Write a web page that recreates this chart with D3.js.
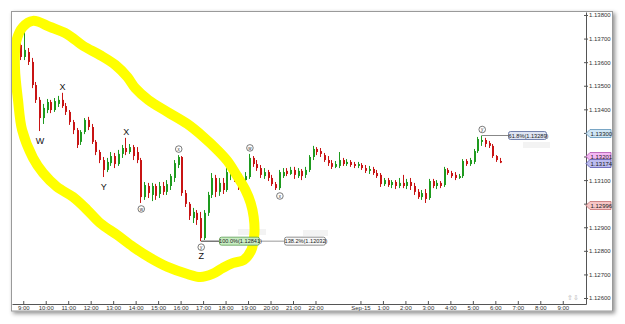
<!DOCTYPE html>
<html>
<head>
<meta charset="utf-8">
<script src="https://cdn.jsdelivr.net/npm/d3@7"></script>
<style>
  body { margin: 0; background: #fff; }
  svg text { font-family: "Liberation Sans", Arial, sans-serif; }
</style>
</head>
<body>
<div class="chart"></div>
<script>
"use strict";

const WIDTH = 625, HEIGHT = 324;
const PLOT = { left: 12, top: 12, right: 586, bottom: 304 };

// 10-minute bars, first bar starts 8:30 on Sep-14
const START = new Date(2015, 8, 14, 8, 30);
const END = new Date(2015, 8, 15, 10, 2);
const BAR_MIN = 10;

const opens = [
  1.13596,1.13533,1.13673,1.13622,1.13643,1.13601,1.13503,1.13440,1.13363,1.13397,
  1.13431,1.13397,1.13423,1.13440,1.13414,1.13389,1.13346,1.13312,1.13262,1.13304,
  1.13355,1.13325,1.13262,1.13219,1.13185,1.13143,1.13172,1.13202,1.13168,1.13211,
  1.13236,1.13219,1.13240,1.13219,1.13185,1.13028,1.13075,1.13037,1.13075,1.13041,
  1.13075,1.13050,1.13075,1.13109,1.13164,1.13198,1.13045,1.12999,1.12939,1.12961,
  1.12939,1.12854,1.12961,1.13037,1.13109,1.13050,1.13088,1.13058,1.13122,1.13156,
  1.13109,1.13071,1.13100,1.13113,1.13194,1.13168,1.13151,1.13117,1.13134,1.13109,
  1.13083,1.13066,1.13117,1.13139,1.13126,1.13143,1.13117,1.13139,1.13122,1.13143,
  1.13198,1.13232,1.13223,1.13206,1.13185,1.13172,1.13156,1.13160,1.13185,1.13168,
  1.13177,1.13168,1.13160,1.13164,1.13151,1.13139,1.13147,1.13130,1.13122,1.13083,
  1.13100,1.13079,1.13092,1.13075,1.13088,1.13075,1.13092,1.13075,1.13050,1.13028,
  1.13045,1.13024,1.13096,1.13075,1.13088,1.13079,1.13143,1.13130,1.13122,1.13109,
  1.13117,1.13181,1.13168,1.13177,1.13223,1.13262,1.13270,1.13257,1.13245,1.13202,
  1.13181
];
const highs = [
  1.13609,1.13686,1.13694,1.13736,1.13660,1.13618,1.13516,1.13452,1.13423,1.13444,
  1.13440,1.13448,1.13457,1.13470,1.13427,1.13397,1.13355,1.13321,1.13312,1.13363,
  1.13368,1.13338,1.13270,1.13228,1.13198,1.13194,1.13219,1.13215,1.13228,1.13249,
  1.13279,1.13253,1.13249,1.13240,1.13194,1.13092,1.13088,1.13088,1.13084,1.13092,
  1.13092,1.13100,1.13126,1.13185,1.13206,1.13202,1.13058,1.13007,1.12982,1.12973,
  1.12965,1.12973,1.13050,1.13130,1.13122,1.13109,1.13109,1.13151,1.13168,1.13168,
  1.13122,1.13126,1.13134,1.13211,1.13202,1.13185,1.13164,1.13151,1.13143,1.13122,
  1.13092,1.13143,1.13151,1.13151,1.13156,1.13156,1.13151,1.13147,1.13156,1.13206,
  1.13245,1.13240,1.13236,1.13215,1.13202,1.13185,1.13181,1.13219,1.13194,1.13189,
  1.13185,1.13177,1.13177,1.13172,1.13164,1.13160,1.13156,1.13143,1.13130,1.13109,
  1.13109,1.13100,1.13100,1.13109,1.13122,1.13105,1.13109,1.13088,1.13062,1.13058,
  1.13062,1.13105,1.13105,1.13100,1.13096,1.13156,1.13151,1.13139,1.13134,1.13126,
  1.13189,1.13189,1.13194,1.13232,1.13283,1.13289,1.13279,1.13266,1.13253,1.13206,
  1.13194
];
const lows = [
  1.13490,1.13524,1.13609,1.13609,1.13588,1.13490,1.13427,1.13308,1.13338,1.13384,
  1.13384,1.13389,1.13410,1.13406,1.13376,1.13334,1.13295,1.13236,1.13249,1.13295,
  1.13312,1.13253,1.13206,1.13172,1.13113,1.13134,1.13160,1.13151,1.13160,1.13194,
  1.13206,1.13211,1.13185,1.13172,1.13003,1.13016,1.13024,1.13011,1.13016,1.13024,
  1.13037,1.13037,1.13058,1.13092,1.13151,1.13033,1.12986,1.12931,1.12918,1.12910,
  1.12841,1.12846,1.12948,1.13024,1.13028,1.13033,1.13041,1.13050,1.13100,1.13092,
  1.13058,1.13062,1.13083,1.13105,1.13156,1.13139,1.13109,1.13105,1.13096,1.13075,
  1.13058,1.13058,1.13109,1.13117,1.13122,1.13105,1.13109,1.13100,1.13109,1.13134,
  1.13185,1.13206,1.13198,1.13177,1.13160,1.13147,1.13151,1.13151,1.13160,1.13160,
  1.13156,1.13151,1.13151,1.13143,1.13130,1.13126,1.13122,1.13109,1.13071,1.13075,
  1.13071,1.13066,1.13062,1.13066,1.13066,1.13062,1.13058,1.13037,1.13020,1.13016,
  1.13003,1.13016,1.13066,1.13062,1.13066,1.13071,1.13122,1.13109,1.13100,1.13105,
  1.13109,1.13160,1.13160,1.13168,1.13215,1.13245,1.13240,1.13236,1.13194,1.13177,
  1.13172
];
const closes = [
  1.13503,1.13673,1.13622,1.13652,1.13601,1.13503,1.13440,1.13363,1.13406,1.13431,
  1.13397,1.13435,1.13440,1.13414,1.13389,1.13346,1.13312,1.13249,1.13304,1.13355,
  1.13325,1.13262,1.13219,1.13185,1.13143,1.13177,1.13202,1.13168,1.13211,1.13236,
  1.13219,1.13240,1.13202,1.13185,1.13028,1.13079,1.13045,1.13075,1.13033,1.13075,
  1.13050,1.13083,1.13117,1.13172,1.13198,1.13045,1.12999,1.12948,1.12965,1.12931,
  1.12854,1.12961,1.13037,1.13109,1.13050,1.13088,1.13058,1.13134,1.13156,1.13109,
  1.13071,1.13109,1.13117,1.13194,1.13168,1.13151,1.13122,1.13134,1.13109,1.13083,
  1.13066,1.13134,1.13134,1.13126,1.13143,1.13122,1.13139,1.13117,1.13143,1.13198,
  1.13232,1.13219,1.13211,1.13185,1.13172,1.13156,1.13168,1.13185,1.13168,1.13177,
  1.13164,1.13160,1.13168,1.13151,1.13139,1.13147,1.13130,1.13117,1.13083,1.13100,
  1.13079,1.13092,1.13075,1.13088,1.13075,1.13092,1.13075,1.13050,1.13028,1.13045,
  1.13020,1.13096,1.13075,1.13088,1.13075,1.13147,1.13130,1.13117,1.13109,1.13117,
  1.13181,1.13168,1.13185,1.13223,1.13274,1.13270,1.13253,1.13245,1.13202,1.13185,
  1.13174
];

// axis ticks (1.132 / 1.130 sit under the price tags, so no label there)
const yTicks = [1.126,1.127,1.128,1.129,1.130,1.131,1.132,1.133,1.134,1.135,1.136,1.137,1.138];
const yHiddenLabels = [1.130, 1.132];
const xTickHours = [9,10,11,12,13,14,15,16,17,18,19,20,21,22,24,25,26,27,28,29,30,31,32,33];
const xTickLabels = ["9:00","10:00","11:00","12:00","13:00","14:00","15:00","16:00","17:00",
  "18:00","19:00","20:00","21:00","22:00","Sep-15","1:00","2:00","3:00","4:00","5:00",
  "6:00","7:00","8:00","9:00"];

// price tags on the right axis
const tagValues = [1.13300, 1.13201, 1.13174, 1.12996];
const tagFills = ["#cfe6f6", "#f3b6f3", "#bcbcf0", "#f7c6c6"];
const tagStrokes = ["#5d92b8", "#b052b0", "#5858b0", "#c47070"];

// wave labels (bar index, text)
const waveBars = [7, 13, 24, 30, 50];
const waveText = ["W", "X", "Y", "X", "Z"];
const waveSide = ["low", "high", "low", "high", "low"];
const circBars = [34, 44, 50, 63, 71, 125];
const circText = ["w", "x", "y", "w", "x", "y"];
const circSide = ["low", "high", "low", "high", "low", "high"];

// fibonacci labels
const fibText = ["61.8%(1.13289)", "100.0%(1.12841)", "138.2%(1.12032)"];
const fibPrice = [1.13289, 1.12841, 1.12841];

// hand drawn yellow loop: minutes after 8:30, price
const loopMin = [56,102,147,190,235,276,308,329,364,415,468,511,548,575,599,623,637,645,647,639,
  618,589,562,535,503,468,415,369,324,281,235,201,163,120,83,56,27,16,8,11,29];
const loopPrice = [1.13775,1.13749,1.13719,1.13669,1.13630,1.13588,1.13537,1.13490,1.13440,1.13389,
  1.13338,1.13283,1.13228,1.13181,1.13122,1.13058,1.13003,1.12944,1.12876,1.12804,
  1.12761,1.12748,1.12727,1.12702,1.12689,1.12702,1.12732,1.12770,1.12816,1.12867,
  1.12918,1.12973,1.13028,1.13071,1.13130,1.13194,1.13312,1.13440,1.13575,1.13686,1.13749];

const bars = opens.map((o, i) => ({
  t: new Date(START.getTime() + (i * BAR_MIN + BAR_MIN / 2) * 60000),
  o: o, h: highs[i], l: lows[i], c: closes[i]
}));

const xScale = d3.scaleTime().domain([START, END]).range([PLOT.left, PLOT.right]);
const yScale = d3.scaleLinear().domain([1.125746, 1.138127]).range([PLOT.bottom, PLOT.top]);
const dayStart = new Date(2015, 8, 14, 0, 0);
const hourDate = (h) => new Date(dayStart.getTime() + h * 3600000);

const svg = d3.select(".chart").append("svg")
  .attr("width", WIDTH).attr("height", HEIGHT);

const defs = svg.append("defs");
const f = defs.append("filter").attr("id", "shadow")
  .attr("x", "-5%").attr("y", "-5%").attr("width", "110%").attr("height", "110%");
f.append("feDropShadow").attr("dx", 2).attr("dy", 2).attr("stdDeviation", 2)
  .attr("flood-color", "#000").attr("flood-opacity", 0.45);
defs.append("clipPath").attr("id", "plotclip").append("rect")
  .attr("x", PLOT.left).attr("y", PLOT.top)
  .attr("width", PLOT.right - PLOT.left).attr("height", PLOT.bottom - PLOT.top);

// panel
svg.append("rect")
  .attr("x", 11.5).attr("y", 11.5).attr("width", 601).attr("height", 299.5)
  .attr("fill", "#fff").attr("stroke", "#9a9a9a").attr("filter", "url(#shadow)");

const plot = svg.append("g").attr("clip-path", "url(#plotclip)");

// faint ghost boxes
[[238, 229, 28, 6], [303, 230, 25, 6], [523, 142, 27, 6]].forEach((r) => {
  plot.append("rect").attr("x", r[0]).attr("y", r[1]).attr("width", r[2]).attr("height", r[3])
    .attr("fill", "#f3f3f3");
});

// candles
const up = "#1e9a1e", down = "#c81414";
const candle = plot.selectAll("g.candle").data(bars).enter().append("g");
candle.append("rect")
  .attr("x", (d) => Math.round(xScale(d.t)) - 1)
  .attr("y", (d) => yScale(d.h))
  .attr("width", 1)
  .attr("height", (d) => Math.max(1, yScale(d.l) - yScale(d.h)))
  .attr("fill", (d) => (d.c >= d.o ? up : down));
candle.append("rect")
  .attr("x", (d) => Math.round(xScale(d.t)) - 1)
  .attr("y", (d) => yScale(Math.max(d.o, d.c)))
  .attr("width", 2)
  .attr("height", (d) => Math.max(1, Math.abs(yScale(d.o) - yScale(d.c))))
  .attr("fill", (d) => (d.c >= d.o ? up : down));

// yellow loop
plot.append("path")
  .datum(loopMin.map((m, i) => [new Date(START.getTime() + m * 60000), loopPrice[i]]))
  .attr("d", d3.line().x((d) => xScale(d[0])).y((d) => yScale(d[1])).curve(d3.curveCatmullRomClosed))
  .attr("fill", "none").attr("stroke", "#ffff00").attr("stroke-width", 10)
  .attr("stroke-linejoin", "round");

// fib lines and boxes
const fx = (i) => Math.round(xScale(bars[i].t));
const fibY0 = yScale(fibPrice[0]), fibY1 = yScale(fibPrice[1]);
plot.append("line").attr("x1", fx(125)).attr("x2", fx(125) + 26)
  .attr("y1", fibY0).attr("y2", fibY0).attr("stroke", "#888");
plot.append("line").attr("x1", fx(50)).attr("x2", fx(50) + 18)
  .attr("y1", fibY1).attr("y2", fibY1).attr("stroke", "#333");
plot.append("line").attr("x1", fx(50) + 18).attr("x2", fx(50) + 84)
  .attr("y1", fibY1).attr("y2", fibY1).attr("stroke", "#999");
const fibBoxes = [
  { x: fx(125) + 26, y: fibY0, w: 38, fill: "#dfe5f4", stroke: "#56669a" },
  { x: fx(50) + 18, y: fibY1, w: 40, fill: "#c9eec2", stroke: "#5a9a52" },
  { x: fx(50) + 83, y: fibY1, w: 41, fill: "#f8f8f8", stroke: "#777" }
];
fibBoxes.forEach((b, i) => {
  plot.append("rect").attr("x", b.x + 0.5).attr("y", b.y - 4).attr("width", b.w).attr("height", 8)
    .attr("rx", 2).attr("fill", b.fill).attr("stroke", b.stroke).attr("stroke-width", 0.8);
  plot.append("text").attr("x", b.x + 1.5 + b.w / 2).attr("y", b.y + 2.2)
    .attr("text-anchor", "middle").attr("font-size", 5.6).attr("fill", "#222")
    .text(fibText[i]);
});

// wave labels
waveBars.forEach((bi, i) => {
  const b = bars[bi];
  const yy = waveSide[i] === "low" ? yScale(b.l) + (bi === 50 ? 18 : 13) : yScale(b.h) - 3;
  plot.append("text").attr("x", xScale(b.t)).attr("y", yy)
    .attr("text-anchor", "middle").attr("font-size", 9).attr("fill", "#111").text(waveText[i]);
});
circBars.forEach((bi, i) => {
  const b = bars[bi];
  const cy = circSide[i] === "low" ? yScale(b.l) + 6 : yScale(b.h) - 6;
  const cx = xScale(b.t);
  plot.append("circle").attr("cx", cx).attr("cy", cy).attr("r", 3.3)
    .attr("fill", "#fff").attr("stroke", "#444").attr("stroke-width", 0.7);
  plot.append("text").attr("x", cx).attr("y", cy + 1.6).attr("text-anchor", "middle")
    .attr("font-size", 4.5).attr("fill", "#333").text(circText[i]);
});

// small arrows icon
svg.append("text").attr("x", 567).attr("y", 300).attr("font-size", 7).attr("fill", "#b0b0b0")
  .attr("font-family", "DejaVu Sans").text("⇧⇩");

// x axis
const xAxis = d3.axisBottom(xScale)
  .tickValues(xTickHours.map(hourDate))
  .tickFormat((d, i) => xTickLabels[i])
  .tickSizeInner(-3).tickSizeOuter(0).tickPadding(1.5);
const gx = svg.append("g").attr("transform", `translate(0,${PLOT.bottom})`).call(xAxis);
gx.select(".domain").attr("stroke", "#555");
gx.selectAll(".tick line").attr("stroke", "#555");
gx.selectAll("text").attr("font-size", 6).attr("fill", "#333");

// y axis
const yAxis = d3.axisRight(yScale)
  .tickValues(yTicks)
  .tickFormat((d) => (yHiddenLabels.some((h) => Math.abs(h - d) < 1e-9) ? "" : d3.format(".5f")(d)))
  .tickSize(2).tickSizeOuter(0).tickPadding(1);
const gy = svg.append("g").attr("transform", `translate(${PLOT.right},0)`).call(yAxis);
gy.select(".domain").attr("stroke", "#555");
gy.selectAll(".tick line").attr("x1", -2).attr("stroke", "#555");
gy.selectAll("text").attr("font-size", 6).attr("fill", "#333");

// price tags
tagValues.forEach((v, i) => {
  const yy = Math.round(yScale(v)) + 0.5;
  svg.append("path")
    .attr("d", `M${PLOT.right},${yy} L${PLOT.right + 4},${yy - 4} L${PLOT.right + 25},${yy - 4} L${PLOT.right + 25},${yy + 4} L${PLOT.right + 4},${yy + 4} Z`)
    .attr("fill", tagFills[i]).attr("stroke", tagStrokes[i]).attr("stroke-width", 0.8);
  svg.append("text").attr("x", PLOT.right + 4.5).attr("y", yy + 2.2)
    .attr("font-size", 6).attr("fill", "#222").text(d3.format(".5f")(v));
});
</script>
</body>
</html>
